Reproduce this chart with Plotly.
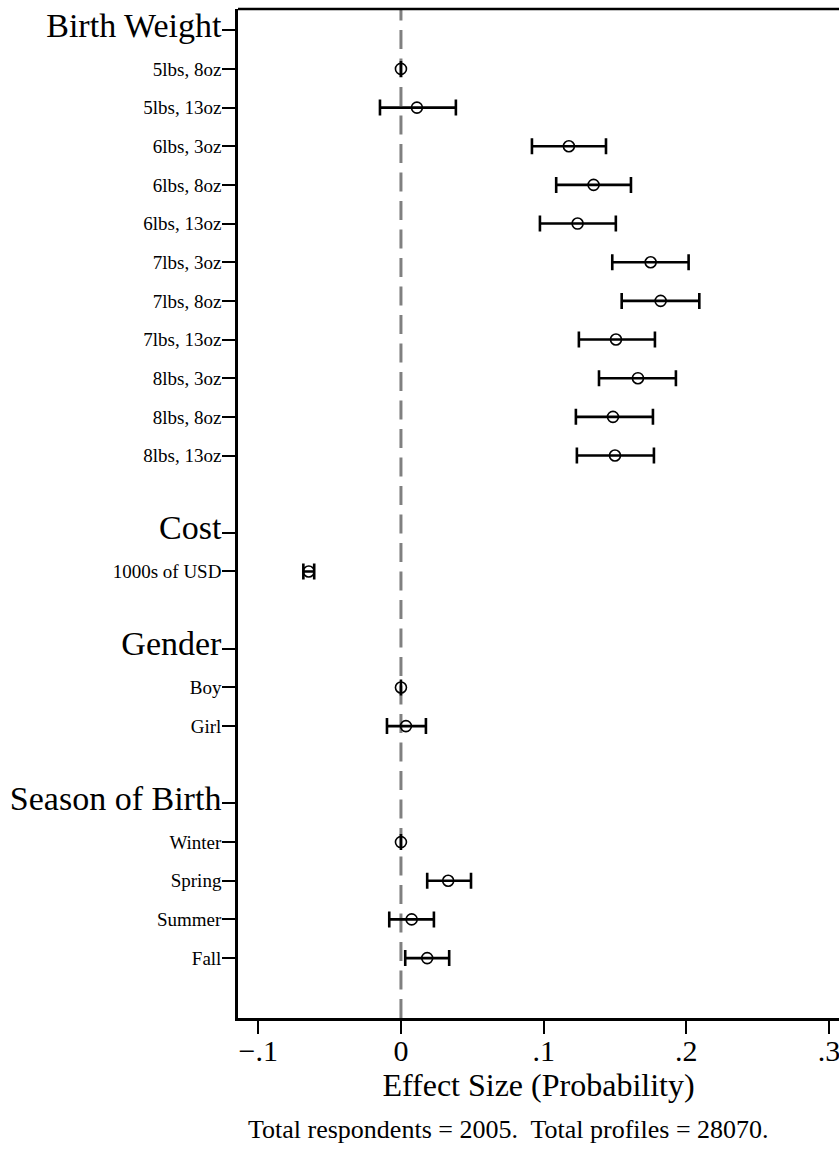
import plotly.graph_objects as go

# ---- data ----
group_names = ["Birth Weight", "Cost", "Gender", "Season of Birth"]
bw_levels = ["5lbs, 8oz", "5lbs, 13oz", "6lbs, 3oz", "6lbs, 8oz", "6lbs, 13oz",
             "7lbs, 3oz", "7lbs, 8oz", "7lbs, 13oz", "8lbs, 3oz", "8lbs, 8oz", "8lbs, 13oz"]
bw_est = [0.0, 0.0112, 0.1177, 0.1350, 0.1238, 0.1750, 0.1820, 0.1507, 0.1661, 0.1486, 0.1500]
bw_lo = [0.0, -0.0147, 0.0918, 0.1088, 0.0974, 0.1481, 0.1547, 0.1247, 0.1388, 0.1226, 0.1233]
bw_hi = [0.0, 0.0385, 0.1437, 0.1612, 0.1506, 0.2016, 0.2091, 0.1780, 0.1927, 0.1766, 0.1773]

cost_levels = ["1000s of USD"]
cost_est = [-0.0646]
cost_lo = [-0.0684]
cost_hi = [-0.0608]

gender_levels = ["Boy", "Girl"]
gender_est = [0.0, 0.0035]
gender_lo = [0.0, -0.0098]
gender_hi = [0.0, 0.0175]

season_levels = ["Winter", "Spring", "Summer", "Fall"]
season_est = [0.0, 0.0331, 0.0075, 0.0184]
season_lo = [0.0, 0.0184, -0.0082, 0.0030]
season_hi = [0.0, 0.0491, 0.0231, 0.0338]

x_tickvals = [-0.1, 0, 0.1, 0.2, 0.3]
x_ticktext = ["\u2212.1", "0", ".1", ".2", ".3"]

groups = [
    (group_names[0], bw_levels, bw_est, bw_lo, bw_hi),
    (group_names[1], cost_levels, cost_est, cost_lo, cost_hi),
    (group_names[2], gender_levels, gender_est, gender_lo, gender_hi),
    (group_names[3], season_levels, season_est, season_lo, season_hi),
]

# ---- build rows ----
ys, xs, eplus, eminus = [], [], [], []
tickvals, ticktext = [], []
row = 0
for gi, (gname, levels, est, lo, hi) in enumerate(groups):
    tickvals.append(row)
    ticktext.append(f'<span style="font-size:34px">{gname}</span>')
    row += 1
    for lvl, e, l, h in zip(levels, est, lo, hi):
        tickvals.append(row)
        ticktext.append(lvl)
        ys.append(row)
        xs.append(e)
        eplus.append(h - e)
        eminus.append(e - l)
        row += 1
    if gi < len(groups) - 1:
        row += 1
last_row = row - 1

FONT = "Liberation Serif, Times New Roman, serif"

fig = go.Figure()
fig.add_trace(go.Scatter(
    x=xs, y=ys, mode="markers",
    marker=dict(symbol="circle-open", size=11, color="black", line=dict(width=1.6, color="black")),
    error_x=dict(type="data", symmetric=False, array=eplus, arrayminus=eminus,
                 color="black", thickness=2.6, width=8),
    showlegend=False, hoverinfo="skip",
))

# dashed zero line
fig.add_shape(type="line", xref="x", yref="paper", x0=0, x1=0, y0=0, y1=1,
              line=dict(color="#808080", width=3, dash="19px,9.5px"), layer="below")
# top border
fig.add_shape(type="line", xref="paper", yref="paper", x0=0, x1=1, y0=1, y1=1,
              line=dict(color="black", width=2.4))

fig.update_layout(
    width=839, height=1149,
    margin=dict(l=238, r=0, t=9, b=131),
    paper_bgcolor="white", plot_bgcolor="white",
    font=dict(family=FONT, color="black"),
    xaxis=dict(range=[-0.1142, 0.307], tickvals=x_tickvals, ticktext=x_ticktext,
               showgrid=False, zeroline=False, showline=True, linecolor="black", linewidth=2.6,
               ticks="outside", ticklen=13, tickwidth=2, tickcolor="black",
               ticklabeloverflow="allow", ticklabelstandoff=-9,
               tickfont=dict(size=30, family=FONT),
               title=dict(text="Effect Size (Probability)", font=dict(size=32, family=FONT), standoff=2)),
    yaxis=dict(range=[last_row + 1.55, -0.55], tickvals=tickvals, ticktext=ticktext,
               showgrid=False, zeroline=False, showline=True, linecolor="black", linewidth=2.6,
               ticks="outside", ticklen=13, tickwidth=2, tickcolor="black",
               ticklabelstandoff=-3,
               tickfont=dict(size=19, family=FONT)),
    annotations=[dict(text="Total respondents = 2005.\u00a0 Total profiles = 28070.",
                      xref="paper", yref="paper", x=(508 - 238) / 601, y=-0.111,
                      xanchor="center", yanchor="middle", showarrow=False,
                      font=dict(size=26, family=FONT))],
)

fig.write_html("out.html", config={"displayModeBar": False},
               post_script="document.body.style.margin='0';document.body.style.overflow='hidden';")
